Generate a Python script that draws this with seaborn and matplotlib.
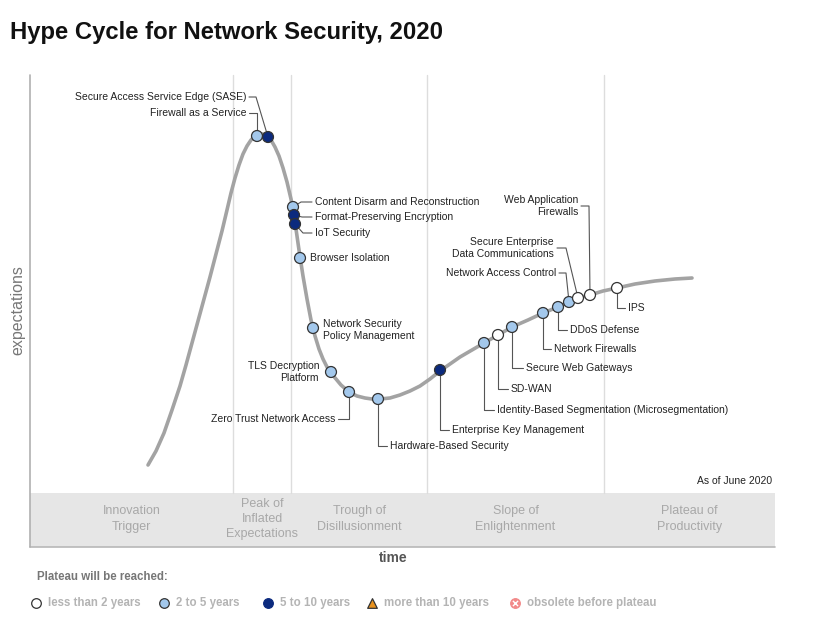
import numpy as np
import pandas as pd
import seaborn as sns
import matplotlib.pyplot as plt

curve_t = [148, 156, 164, 172, 180, 186, 192, 198, 204, 210, 216, 222, 227, 231, 235,
           239, 243, 247, 251, 255, 259, 263, 267, 271, 275, 279, 283, 287, 291, 295,
           299, 303, 307, 311, 315, 319, 323, 327, 331, 336, 341, 349, 357, 365, 372,
           380, 390, 400, 410, 420, 430, 440, 450, 460, 472, 484, 498, 512, 528, 543,
           558, 569, 578, 590, 603, 617, 635, 655, 675, 692]
curve_e = [465, 451, 433, 410, 386, 365, 343, 321, 299, 277, 254, 231, 210, 193, 178,
           165, 154, 146, 140, 136, 134, 134, 136, 140, 147, 156, 168, 182, 199, 222,
           250, 276, 299, 320, 336, 349, 359, 367, 373, 379, 385, 392, 396, 398, 399,
           399, 398, 395, 391, 386, 379, 371, 364, 357, 350, 343, 335, 327, 320, 313,
           307, 302, 298, 295, 291, 288, 284, 281, 279, 278]

tech = ['Firewall as a Service', 'Secure Access Service Edge (SASE)',
        'Content Disarm and Reconstruction', 'Format-Preserving Encryption', 'IoT Security',
        'Browser Isolation', 'Network Security\nPolicy Management', 'TLS Decryption\nPlatform',
        'Zero Trust Network Access', 'Hardware-Based Security', 'Enterprise Key Management',
        'Identity-Based Segmentation (Microsegmentation)', 'SD-WAN', 'Secure Web Gateways',
        'Network Firewalls', 'DDoS Defense', 'Network Access Control',
        'Secure Enterprise\nData Communications', 'Web Application\nFirewalls', 'IPS']
tech_t = [257, 268, 293, 294, 295, 300, 313, 331, 349, 378, 440,
          484, 498, 512, 543, 558, 569, 578, 590, 617]
tech_e = [136, 137, 207, 215, 224, 258, 328, 372, 392, 399, 370,
          343, 335, 327, 313, 307, 302, 298, 295, 288]
tech_years = ['2 to 5 years', '5 to 10 years', '2 to 5 years', '5 to 10 years', '5 to 10 years',
              '2 to 5 years', '2 to 5 years', '2 to 5 years', '2 to 5 years', '2 to 5 years',
              '5 to 10 years', '2 to 5 years', 'less than 2 years', '2 to 5 years',
              '2 to 5 years', '2 to 5 years', '2 to 5 years', 'less than 2 years',
              'less than 2 years', 'less than 2 years']

phases = ['Innovation\nTrigger', 'Peak of\nInflated\nExpectations', 'Trough of\nDisillusionment',
          'Slope of\nEnlightenment', 'Plateau of\nProductivity']
phase_edges = [30, 233, 291, 427, 604, 775]

legend_labels = ['less than 2 years', '2 to 5 years', '5 to 10 years',
                 'more than 10 years', 'obsolete before plateau']

palette = {'less than 2 years': 'white', '2 to 5 years': '#a3c8ec', '5 to 10 years': '#0b2a7e'}

# label layout: text x, text y, alignment, leader style, elbow x
label_pos = {
    'Firewall as a Service': (246, 113, 'right', 'top', 257),
    'Secure Access Service Edge (SASE)': (246, 97, 'right', 'top', 256),
    'Content Disarm and Reconstruction': (315, 202, 'left', 'side', None),
    'Format-Preserving Encryption': (315, 217, 'left', 'side', None),
    'IoT Security': (315, 233, 'left', 'side', None),
    'Browser Isolation': (310, 258, 'left', None, None),
    'Network Security\nPolicy Management': (323, 330, 'left', None, None),
    'TLS Decryption\nPlatform': (319, 372, 'right', None, None),
    'Zero Trust Network Access': (335, 419, 'right', 'below', None),
    'Hardware-Based Security': (390, 446, 'left', 'below', None),
    'Enterprise Key Management': (452, 430, 'left', 'below', None),
    'Identity-Based Segmentation (Microsegmentation)': (497, 410, 'left', 'below', None),
    'SD-WAN': (511, 389, 'left', 'below', None),
    'Secure Web Gateways': (526, 368, 'left', 'below', None),
    'Network Firewalls': (554, 349, 'left', 'below', None),
    'DDoS Defense': (570, 330, 'left', 'below', None),
    'Network Access Control': (556, 273, 'right', 'top', 566),
    'Secure Enterprise\nData Communications': (554, 248, 'right', 'top', 566),
    'Web Application\nFirewalls': (578, 206, 'right', 'top', 589),
    'IPS': (628, 308, 'left', 'below', None),
}

sns.set_style('white')
plt.rcParams['font.family'] = ['Liberation Sans', 'DejaVu Sans']

fig = plt.figure(figsize=(8.3, 6.18), dpi=100)
ax = fig.add_axes([0, 0, 1, 1])
ax.set_xlim(0, 830)
ax.set_ylim(618, 0)
ax.axis('off')

# frame, phase band and phase lines
ax.fill_between([30, 775], 493, 547, color='#e6e6e6', lw=0, zorder=0)
ax.plot([30, 775], [547, 547], color='#b8b8b8', lw=1.2, zorder=1)
ax.plot([30, 30], [75, 547], color='#b0b0b0', lw=1.2, zorder=1)
for xe in phase_edges[1:-1]:
    ax.plot([xe, xe], [75, 493], color='#dddddd', lw=1, zorder=1)
for i, ph in enumerate(phases):
    cx = (phase_edges[i] + phase_edges[i + 1]) / 2
    if i == 1:
        cx = 262
    ax.text(cx, 519, ph, ha='center', va='center', fontsize=9, color='#a8a8a8',
            linespacing=1.38)

# hype curve
df_curve = pd.DataFrame({'time': curve_t, 'expectations': curve_e})
sns.lineplot(data=df_curve, x='time', y='expectations', sort=False, estimator=None,
             color='#a3a3a3', lw=2.6, ax=ax, zorder=2)

# leaders and labels
for name, t, e in zip(tech, tech_t, tech_e):
    tx, ty, ha, kind, elbow = label_pos[name]
    lc = dict(color='#555555', lw=0.8, zorder=3)
    if kind == 'below':
        end = tx - 3 if ha == 'left' else tx + 3
        ax.plot([t, t, end], [e, ty, ty], **lc)
    elif kind == 'top':
        ax.plot([tx + 3, elbow, t], [ty, ty, e], **lc)
    elif kind == 'side':
        ax.plot([t, t + 8, tx - 3], [e, ty, ty], **lc)
    ax.text(tx, ty, name, ha=ha, va='center', fontsize=7.5, color='#222222',
            linespacing=1.3, zorder=5)

df_pts = pd.DataFrame({'time': tech_t, 'expectations': tech_e, 'plateau': tech_years})
sns.scatterplot(data=df_pts, x='time', y='expectations', hue='plateau', palette=palette,
                s=62, edgecolor='#333333', linewidth=0.9, legend=False, ax=ax, zorder=4)

# texts
ax.text(10, 32, 'Hype Cycle for Network Security, 2020', fontsize=17.2, fontweight='bold',
        color='#111111', va='center', ha='left')
ax.text(18, 310, 'expectations', rotation=90, fontsize=11.5, color='#777777',
        ha='center', va='center')
ax.text(393, 558, 'time', fontsize=10, fontweight='bold', color='#555555',
        ha='center', va='center')
ax.text(772, 481, 'As of June 2020', fontsize=7.5, color='#222222', ha='right', va='center')
ax.text(37, 577, 'Plateau will be reached:', fontsize=8.3, fontweight='bold',
        color='#777777', ha='left', va='center')

# legend row
leg_x = [36, 164, 268, 372, 515]
leg_style = [dict(marker='o', facecolor='white', edgecolor='#333333'),
             dict(marker='o', facecolor='#a3c8ec', edgecolor='#333333'),
             dict(marker='o', facecolor='#0b2a7e', edgecolor='#0b2a7e'),
             dict(marker='^', facecolor='#e8921e', edgecolor='#333333'),
             dict(marker='o', facecolor='#f28a8a', edgecolor='#f28a8a')]
for lx, lab, st in zip(leg_x, legend_labels, leg_style):
    ax.scatter([lx], [603], s=48, linewidth=0.9, zorder=4, **st)
    ax.text(lx + 12, 603, lab, fontsize=8.3, fontweight='bold', color='#b4b4b4',
            ha='left', va='center')
ax.scatter([515], [603], marker='x', s=14, color='white', linewidth=1, zorder=5)

fig.savefig('out.png', dpi=100)
